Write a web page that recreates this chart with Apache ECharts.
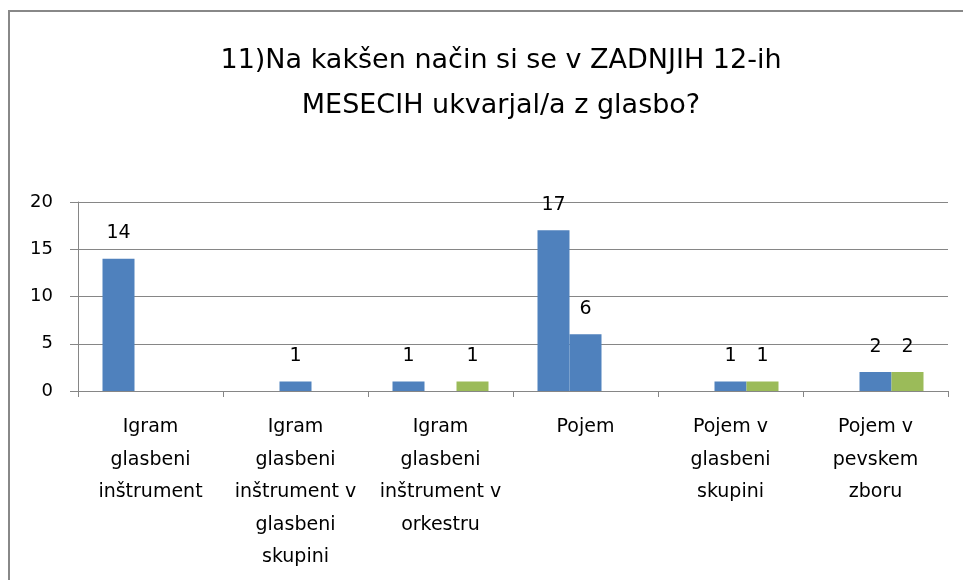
<!DOCTYPE html>
<html>
<head>
<meta charset="utf-8">
<script src="https://cdn.jsdelivr.net/npm/echarts@6/dist/echarts.min.js"></script>
<style>
  html, body { margin: 0; padding: 0; background: #fff; }
  #box { width: 963px; height: 580px; }
</style>
</head>
<body>
<div id="box"></div>
<script>
const categories = [
  'Igram glasbeni inštrument',
  'Igram glasbeni inštrument v glasbeni skupini',
  'Igram glasbeni inštrument v orkestru',
  'Pojem',
  'Pojem v glasbeni skupini',
  'Pojem v pevskem zboru'
]
// wrapped the way the original axis shows them
const tickLabels = [
  'Igram\nglasbeni\ninštrument',
  'Igram\nglasbeni\ninštrument v\nglasbeni\nskupini',
  'Igram\nglasbeni\ninštrument v\norkestru',
  'Pojem',
  'Pojem v\nglasbeni\nskupini',
  'Pojem v\npevskem\nzboru'
]
const seriesA = [14, null, 1, 17, null, null]
const seriesB = [null, 1, null, 6, 1, 2]
const seriesC = [null, null, 1, null, 1, 2]
const yTicks = [0, 5, 10, 15, 20]

const font = 'DejaVu Sans, sans-serif'
const grey = '#868686'

const label = {
  show: true,
  position: 'top',
  distance: 16,
  color: '#000',
  fontFamily: font,
  fontSize: 19
}

function bar (name, data, color) {
  return {
    name: name,
    type: 'bar',
    data: data,
    barWidth: 32,
    barGap: '0%',
    itemStyle: { color: color },
    label: label
  }
}

const chart = echarts.init(document.getElementById('box'))
chart.setOption({
  animation: false,
  title: {
    text: '11)Na kakšen način si se v ZADNJIH 12-ih\nMESECIH ukvarjal/a z glasbo?',
    left: 496,
    textAlign: 'center',
    top: 33,
    textStyle: {
      fontFamily: font,
      fontWeight: 'normal',
      fontSize: 27,
      lineHeight: 45,
      color: '#000'
    }
  },
  graphic: [{
    type: 'rect',
    shape: { x: 9, y: 11, width: 1000, height: 700 },
    style: { fill: 'none', stroke: '#888', lineWidth: 2 }
  }],
  grid: { left: 78, right: 15, top: 202, bottom: 189 },
  xAxis: {
    type: 'category',
    data: categories,
    axisLine: { lineStyle: { color: grey } },
    axisTick: { show: true, length: 6, lineStyle: { color: grey } },
    axisLabel: {
      interval: 0,
      margin: 20,
      color: '#000',
      fontFamily: font,
      fontSize: 19,
      lineHeight: 32.5,
      formatter: function (v, i) { return tickLabels[i] }
    }
  },
  yAxis: {
    type: 'value',
    min: yTicks[0],
    max: yTicks[yTicks.length - 1],
    interval: 5,
    axisLine: { show: true, lineStyle: { color: grey } },
    axisTick: { show: true, length: 8, lineStyle: { color: grey } },
    splitLine: { lineStyle: { color: grey } },
    axisLabel: {
      margin: 25,
      color: '#000',
      fontFamily: font,
      fontSize: 18
    }
  },
  series: [
    bar('A', seriesA, '#4F81BD'),
    bar('B', seriesB, '#4F81BD'),
    bar('C', seriesC, '#9BBB59')
  ]
})
</script>
</body>
</html>
